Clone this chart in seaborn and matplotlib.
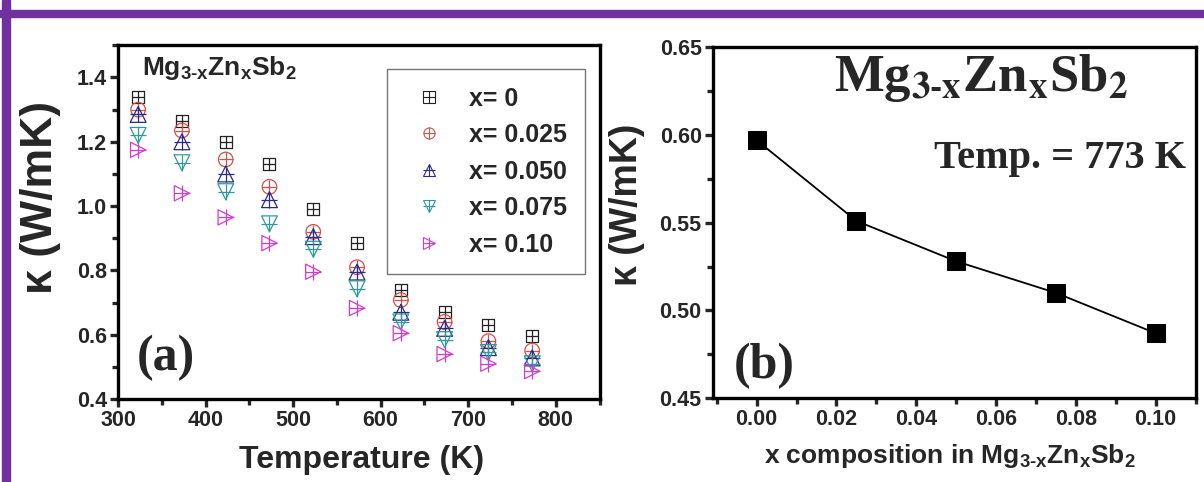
import matplotlib
matplotlib.use("Agg")
import matplotlib.pyplot as plt
from matplotlib.patches import Rectangle
from matplotlib.legend_handler import HandlerTuple
from matplotlib.lines import Line2D
from matplotlib.ticker import MultipleLocator, FormatStrFormatter
import seaborn as sns
import pandas as pd

# panel (a): thermal conductivity vs temperature
temperature = [323, 373, 423, 473, 523, 573, 623, 673, 723, 773]
kappa_x000 = [1.34, 1.265, 1.20, 1.13, 0.99, 0.886, 0.74, 0.67, 0.63, 0.595]
kappa_x025 = [1.30, 1.235, 1.145, 1.06, 0.92, 0.81, 0.708, 0.64, 0.58, 0.551]
kappa_x050 = [1.285, 1.20, 1.10, 1.02, 0.905, 0.795, 0.67, 0.62, 0.56, 0.528]
kappa_x075 = [1.22, 1.135, 1.045, 0.945, 0.866, 0.743, 0.64, 0.585, 0.545, 0.51]
kappa_x100 = [1.175, 1.04, 0.965, 0.885, 0.796, 0.683, 0.605, 0.54, 0.51, 0.487]
series_labels = ["x= 0", "x= 0.025", "x= 0.050", "x= 0.075", "x= 0.10"]

# panel (b): kappa at 773 K vs composition
composition = [0.0, 0.025, 0.05, 0.075, 0.10]
kappa_773 = [0.597, 0.551, 0.528, 0.510, 0.487]

sns.set_style("ticks")
plt.rcParams["font.family"] = ["Liberation Sans", "DejaVu Sans"]
plt.rcParams["font.weight"] = "bold"
plt.rcParams["mathtext.fontset"] = "custom"
plt.rcParams["mathtext.bf"] = "Liberation Sans:bold"
plt.rcParams["mathtext.rm"] = "Liberation Sans:bold"

fig = plt.figure(figsize=(12.04, 4.82), dpi=100)
ax1 = fig.add_axes([0.098, 0.172, 0.400, 0.734])
ax2 = fig.add_axes([0.592, 0.174, 0.401, 0.728])

# purple frame
purple = "#7030A0"
fig.add_artist(Rectangle((0.002, 0), 0.0066, 1, transform=fig.transFigure, color=purple, zorder=0))
fig.add_artist(Rectangle((0, 0.965), 1, 0.0145, transform=fig.transFigure, color=purple, zorder=0))

df = pd.DataFrame({
    "T": temperature * 5,
    "kappa": kappa_x000 + kappa_x025 + kappa_x050 + kappa_x075 + kappa_x100,
    "x": sum([[lab] * len(temperature) for lab in series_labels], []),
})

colors = ["#222222", "#d0504a", "#2a2a8a", "#2f9a9a", "#d23ad2"]
markers = ["s", "o", "^", "v", ">"]
sizes = [75, 110, 130, 130, 120]

handles = []
for lab, c, m, s in zip(series_labels, colors, markers, sizes):
    sub = df[df["x"] == lab]
    sns.scatterplot(data=sub, x="T", y="kappa", marker=m, s=s, facecolor="none",
                    edgecolor=c, linewidth=0.9, ax=ax1, legend=False, zorder=3)
    sns.scatterplot(data=sub, x="T", y="kappa", marker="+", s=s, color=c,
                    linewidth=0.9, ax=ax1, legend=False, zorder=3)
    h1 = Line2D([], [], marker=m, ls="none", mfc="none", mec=c, ms=8, mew=0.8)
    h2 = Line2D([], [], marker="+", ls="none", color=c, ms=8, mew=0.8)
    handles.append((h1, h2))

leg = ax1.legend(handles, series_labels, handler_map={tuple: HandlerTuple(ndivide=1)},
                 loc="upper right", bbox_to_anchor=(0.995, 0.968),
                 prop={"weight": "bold", "size": 18}, frameon=True, fancybox=False,
                 edgecolor="#777777", framealpha=1, borderpad=0.7, labelspacing=0.5,
                 handlelength=2.0, handletextpad=0.6)
leg.get_frame().set_linewidth(1.0)

ax1.set_xlim(300, 850)
ax1.set_ylim(0.4, 1.5)
ax1.xaxis.set_major_locator(MultipleLocator(100))
ax1.xaxis.set_minor_locator(MultipleLocator(50))
ax1.set_yticks([0.4, 0.6, 0.8, 1.0, 1.2, 1.4])
ax1.yaxis.set_minor_locator(MultipleLocator(0.1))
ax1.set_xlabel("Temperature (K)", fontsize=23, fontweight="bold")
ax1.set_ylabel("κ (W/mK)", fontsize=32, fontweight="bold")
ax1.xaxis.set_label_coords(0.506, -0.13)
ax1.yaxis.set_label_coords(-0.118, 0.57)
ax1.text(0.05, 0.975, r"Mg$_{\mathbf{3\text{-}x}}$Zn$_{\mathbf{x}}$Sb$_{\mathbf{2}}$",
         transform=ax1.transAxes, fontsize=19, fontweight="bold", va="top", ha="left")
ax1.text(0.1, 0.116, "(a)", transform=ax1.transAxes, fontsize=36, fontweight="bold",
         family="Liberation Serif", ha="center", va="center")

# panel (b)
sns.lineplot(x=composition, y=kappa_773, ax=ax2, color="black", lw=1.3, marker="s",
             markersize=13, markeredgecolor="black", markerfacecolor="black")
ax2.set_xlim(-0.011, 0.110)
ax2.set_ylim(0.45, 0.65)
ax2.xaxis.set_major_locator(MultipleLocator(0.02))
ax2.xaxis.set_minor_locator(MultipleLocator(0.01))
ax2.yaxis.set_major_locator(MultipleLocator(0.05))
ax2.yaxis.set_minor_locator(MultipleLocator(0.025))
ax2.xaxis.set_major_formatter(FormatStrFormatter("%.2f"))
ax2.yaxis.set_major_formatter(FormatStrFormatter("%.2f"))
ax2.set_xlabel(r"x composition in Mg$_{\mathbf{3\text{-}x}}$Zn$_{\mathbf{x}}$Sb$_{\mathbf{2}}$",
               fontsize=19, fontweight="bold")
ax2.set_ylabel("κ (W/mK)", fontsize=27, fontweight="bold")
ax2.xaxis.set_label_coords(0.49, -0.125)
ax2.yaxis.set_label_coords(-0.14, 0.55)
ax2.text(0.555, 0.985, r"Mg$_{\mathbf{3\text{-}x}}$Zn$_{\mathbf{x}}$Sb$_{\mathbf{2}}$",
         transform=ax2.transAxes, fontsize=38, fontweight="bold", family="Liberation Serif",
         math_fontfamily="stix", va="top", ha="center")
ax2.text(0.98, 0.684, "Temp. = 773 K", transform=ax2.transAxes, fontsize=29,
         fontweight="bold", family="Liberation Serif", ha="right", va="center")
ax2.text(0.106, 0.091, "(b)", transform=ax2.transAxes, fontsize=36, fontweight="bold",
         family="Liberation Serif", ha="center", va="center")

for ax in (ax1, ax2):
    for sp in ax.spines.values():
        sp.set_linewidth(2.4)
        sp.set_color("black")
    ax.tick_params(which="major", direction="out", length=6, width=2.4, labelsize=15.5,
                   top=False, right=False, pad=2)
    ax.tick_params(which="minor", direction="out", length=4, width=2.4, top=False, right=False)
    for lab in ax.get_xticklabels() + ax.get_yticklabels():
        lab.set_fontweight("bold")

fig.savefig("out.png", dpi=100)
